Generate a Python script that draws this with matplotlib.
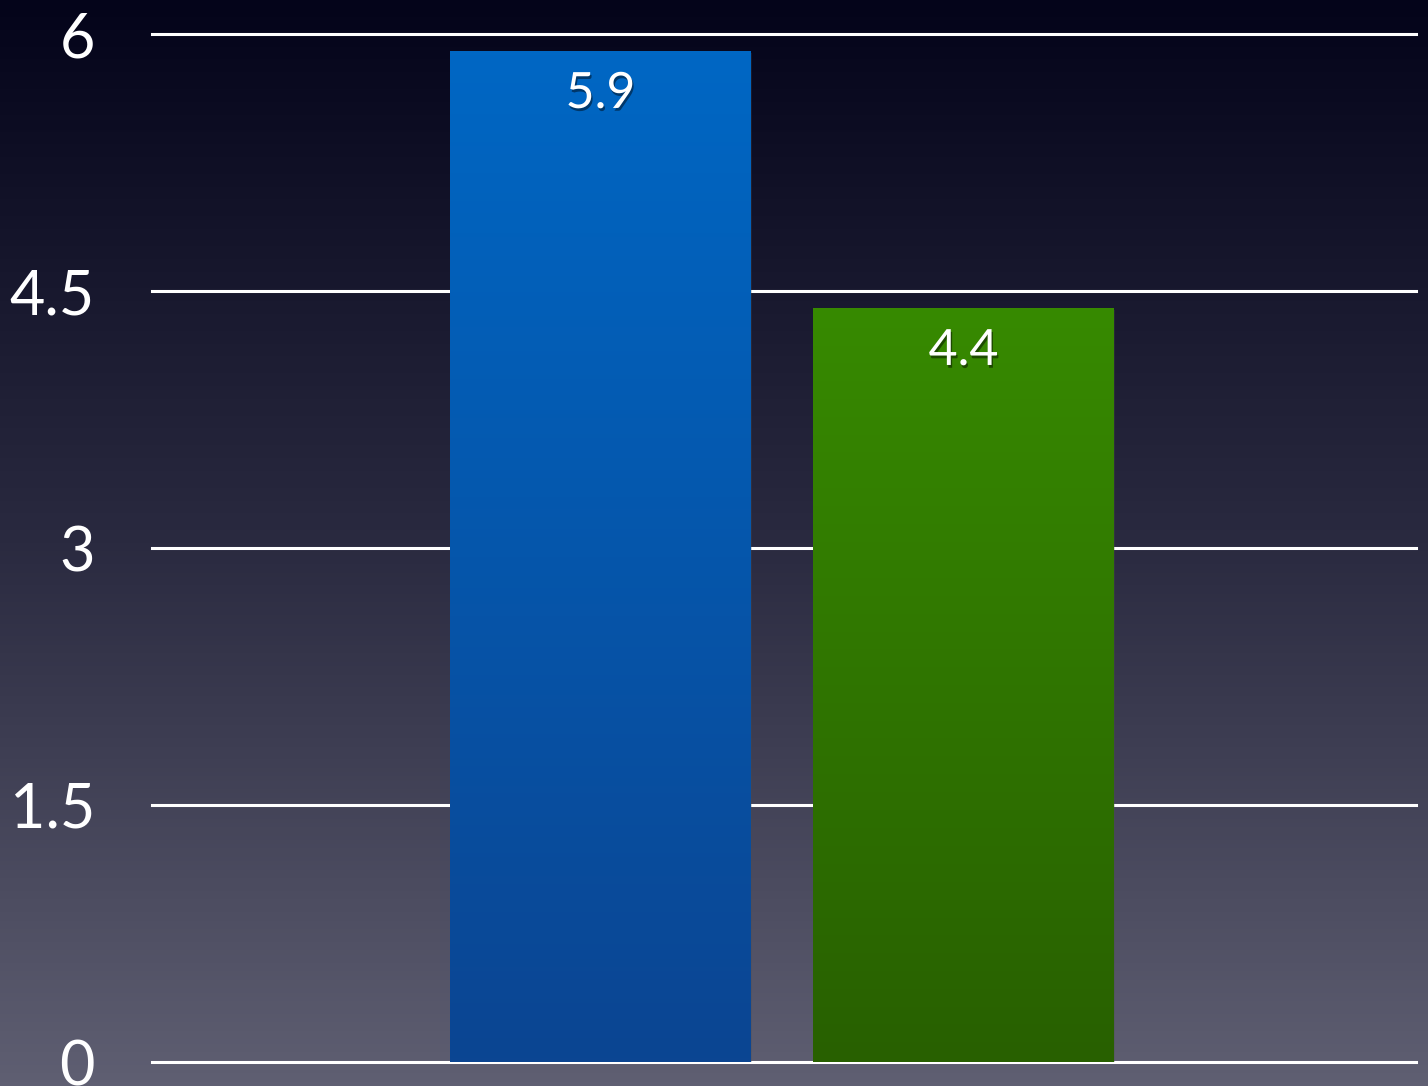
import numpy as np
import matplotlib
matplotlib.use("Agg")
import matplotlib.pyplot as plt
import matplotlib.patheffects as pe
from matplotlib.colors import LinearSegmentedColormap

categories = ["A", "B"]
values = [5.9, 4.4]
value_labels = ["5.9", "4.4"]
yticks = [0, 1.5, 3, 4.5, 6]
ytick_labels = ["0", "1.5", "3", "4.5", "6"]
bar_colors = [("#0067c4", "#0b4592"), ("#378a00", "#286000")]

W, H = 1428, 1086
fig = plt.figure(figsize=(W / 100, H / 100), dpi=100)
plt.rcParams['font.family'] = ['Lato', 'DejaVu Sans']

# background gradient (top dark navy -> bottom gray)
bg = fig.add_axes([0, 0, 1, 1], zorder=-10)
bg.axis("off")
cmap_bg = LinearSegmentedColormap.from_list("bg", ["#5f5f72", "#2a2a40", "#04041a"])
grad = np.linspace(0, 1, 256).reshape(-1, 1)
bg.imshow(grad, aspect="auto", cmap=cmap_bg, extent=[0, 1, 0, 1], vmin=0, vmax=1,
          origin="lower")
bg.set_xlim(0, 1); bg.set_ylim(0, 1)

left, right = 152 / W, 1416 / W
bottom, top = (H - 1062) / H, (H - 34) / H
ax = fig.add_axes([left, bottom, right - left, top - bottom])
ax.set_facecolor("none")
for s in ax.spines.values():
    s.set_visible(False)
ax.set_ylim(0, 6)
ax.set_xlim(-1.2355, 2.2466)
ax.set_yticks(yticks)
ax.set_yticklabels(ytick_labels)
ax.tick_params(axis="y", length=0, pad=41, labelsize=44, labelcolor="white")
ax.set_xticks([])
for y in yticks:
    ax.axhline(y, color="white", lw=2.2, zorder=1, clip_on=False)

x = np.arange(len(categories))
bw = 0.829
bars = ax.bar(x, values, width=bw, color="none", zorder=3)
for b, (c1, c2), lab, v in zip(bars, bar_colors, value_labels, values):
    sh = plt.Rectangle((b.get_x(), 0), b.get_width(), v, color="none", zorder=2, lw=0)
    sh.set_path_effects([pe.SimplePatchShadow(offset=(1, -1), alpha=0.25)])
    ax.add_patch(sh)
    cm = LinearSegmentedColormap.from_list("g", [c2, c1])
    im = ax.imshow(np.linspace(0, 1, 256).reshape(-1, 1), cmap=cm, aspect="auto",
                   extent=[b.get_x(), b.get_x() + b.get_width(), 0, v],
                   origin="lower", zorder=3)
    im.set_clip_path(b)
    ax.text(b.get_x() + b.get_width() / 2, v - 0.25, lab, ha="center", va="center",
            color="white", fontsize=36, zorder=5,
            path_effects=[pe.withSimplePatchShadow(offset=(1, -2), alpha=0.45,
                                                   shadow_rgbFace="black")])
ax.set_xlim(-1.2355, 2.2466)
ax.set_ylim(0, 6)

fig.savefig("out.png", dpi=100)
